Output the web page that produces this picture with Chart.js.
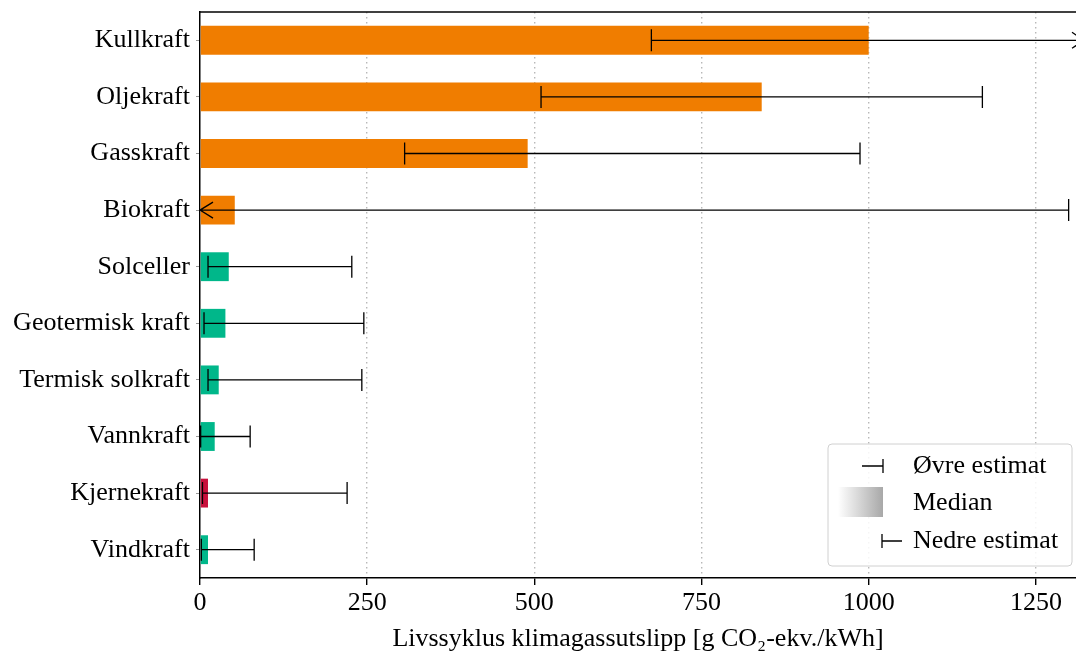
<!DOCTYPE html>
<html>
<head>
<meta charset="utf-8">
<script src="https://cdn.jsdelivr.net/npm/chart.js@4/dist/chart.umd.min.js"></script>
<style>
  html, body { margin: 0; padding: 0; background: #fff; }
  #wrap { width: 1076px; height: 655px; }
</style>
</head>
<body>
<div id="wrap"><canvas id="co2"></canvas></div>
<script>
const categories = ["Kullkraft", "Oljekraft", "Gasskraft", "Biokraft", "Solceller",
  "Geotermisk kraft", "Termisk solkraft", "Vannkraft", "Kjernekraft", "Vindkraft"];
const median = [1000, 840, 490, 52, 43, 38, 28, 22, 12, 12];
const lower = [675, 510, 306, -633, 12, 6, 12, 1, 3.7, 2];
const upper = [1689, 1170, 987, 1299, 227, 245, 242, 75, 220, 81];
const xTicks = [0, 250, 500, 750, 1000, 1250];

const ORANGE = "#f07d00", GREEN = "#00b78a", RED = "#c8103c";
const barColors = [ORANGE, ORANGE, ORANGE, ORANGE, GREEN, GREEN, GREEN, GREEN, RED, GREEN];
const FONT = "'Liberation Serif', 'Times New Roman', serif";

// error bars with caps, arrow when the estimate runs off the axis
const errorBars = {
  id: "errorBars",
  afterDatasetsDraw(chart) {
    const { ctx, chartArea, scales: { x, y } } = chart;
    ctx.save();
    ctx.strokeStyle = "#000";
    ctx.lineWidth = 1.3;
    categories.forEach((c, i) => {
      const py = y.getPixelForValue(i);
      const lo = Math.max(x.getPixelForValue(lower[i]), chartArea.left);
      const hi = Math.min(x.getPixelForValue(upper[i]), chartArea.right);
      ctx.beginPath();
      ctx.moveTo(lo, py);
      ctx.lineTo(hi, py);
      // lower end
      if (lower[i] < x.min) {
        ctx.moveTo(lo + 13, py - 8); ctx.lineTo(lo, py); ctx.lineTo(lo + 13, py + 8);
      } else {
        ctx.moveTo(lo, py - 11); ctx.lineTo(lo, py + 11);
      }
      // upper end
      if (upper[i] > x.max) {
        ctx.moveTo(hi - 4, py - 8); ctx.lineTo(hi + 8, py); ctx.lineTo(hi - 4, py + 8);
      } else {
        ctx.moveTo(hi, py - 11); ctx.lineTo(hi, py + 11);
      }
      ctx.stroke();
    });
    // top spine
    ctx.beginPath();
    ctx.lineWidth = 1.5;
    ctx.moveTo(chartArea.left, chartArea.top);
    ctx.lineTo(chartArea.right, chartArea.top);
    ctx.stroke();
    ctx.restore();
  }
};

// legend box explaining the marks
const markLegend = {
  id: "markLegend",
  afterDraw(chart) {
    const ctx = chart.ctx;
    const bx = 828, by = 444, bw = 244, bh = 122;
    ctx.save();
    ctx.beginPath();
    ctx.roundRect(bx, by, bw, bh, 4);
    ctx.fillStyle = "rgba(255,255,255,0.85)";
    ctx.fill();
    ctx.strokeStyle = "#d0d0d0";
    ctx.lineWidth = 1;
    ctx.stroke();

    ctx.strokeStyle = "#000";
    ctx.lineWidth = 1.3;
    // Øvre estimat
    ctx.beginPath();
    ctx.moveTo(862, 466); ctx.lineTo(883, 466);
    ctx.moveTo(883, 459); ctx.lineTo(883, 473);
    ctx.stroke();
    // Median
    const g = ctx.createLinearGradient(838, 0, 883, 0);
    g.addColorStop(0, "rgba(255,255,255,1)");
    g.addColorStop(1, "#a8a8a8");
    ctx.fillStyle = g;
    ctx.fillRect(838, 487, 45, 30);
    // Nedre estimat
    ctx.beginPath();
    ctx.moveTo(882, 541); ctx.lineTo(902, 541);
    ctx.moveTo(882, 534); ctx.lineTo(882, 548);
    ctx.stroke();

    ctx.fillStyle = "#000";
    ctx.font = "26px " + FONT;
    ctx.textBaseline = "middle";
    ctx.textAlign = "left";
    ctx.fillText("Øvre estimat", 913, 466);
    ctx.fillText("Median", 913, 503);
    ctx.fillText("Nedre estimat", 913, 541);
    ctx.restore();
  }
};

new Chart(document.getElementById("co2"), {
  type: "bar",
  data: {
    labels: categories,
    datasets: [{
      data: median,
      backgroundColor: barColors,
      borderWidth: 0,
      barPercentage: 0.51,
      categoryPercentage: 1.0
    }]
  },
  options: {
    indexAxis: "y",
    responsive: true,
    maintainAspectRatio: false,
    animation: false,
    layout: { padding: { top: 12, right: 0, left: 0, bottom: 0 } },
    plugins: { legend: { display: false }, tooltip: { enabled: false } },
    scales: {
      x: {
        min: 0,
        max: 1310,
        afterBuildTicks: (s) => { s.ticks = xTicks.map(v => ({ value: v })); },
        afterFit: (s) => { s.height = 77; s.paddingRight = 0; },
        ticks: {
          color: "#000",
          font: { family: FONT, size: 26 },
          padding: 3,
          maxRotation: 0,
          callback: (v) => String(v)
        },
        grid: {
          color: (c) => c.tick && c.tick.value === 0 ? "rgba(0,0,0,0)" : "#b8b8b8",
          lineWidth: 1.4,
          tickColor: "#000",
          tickLength: 7,
          tickBorderDash: [],
          drawTicks: true
        },
        border: { display: true, color: "#000", width: 1.5, dash: [1.5, 3.5] },
        title: {
          display: true,
          text: "Livssyklus klimagassutslipp [g CO₂-ekv./kWh]",
          color: "#000",
          font: { family: FONT, size: 26 },
          padding: { top: 0, bottom: 0 }
        }
      },
      y: {
        afterFit: (s) => { s.width = 200; s.paddingTop = 0; s.paddingBottom = 0; },
        ticks: {
          color: "#000",
          font: { family: FONT, size: 26 },
          padding: 6
        },
        grid: {
          drawOnChartArea: false,
          offset: false,
          tickLength: 4,
          tickColor: "#999"
        },
        border: { display: true, color: "#000", width: 1.5 }
      }
    }
  },
  plugins: [errorBars, markLegend]
});
</script>
</body>
</html>
